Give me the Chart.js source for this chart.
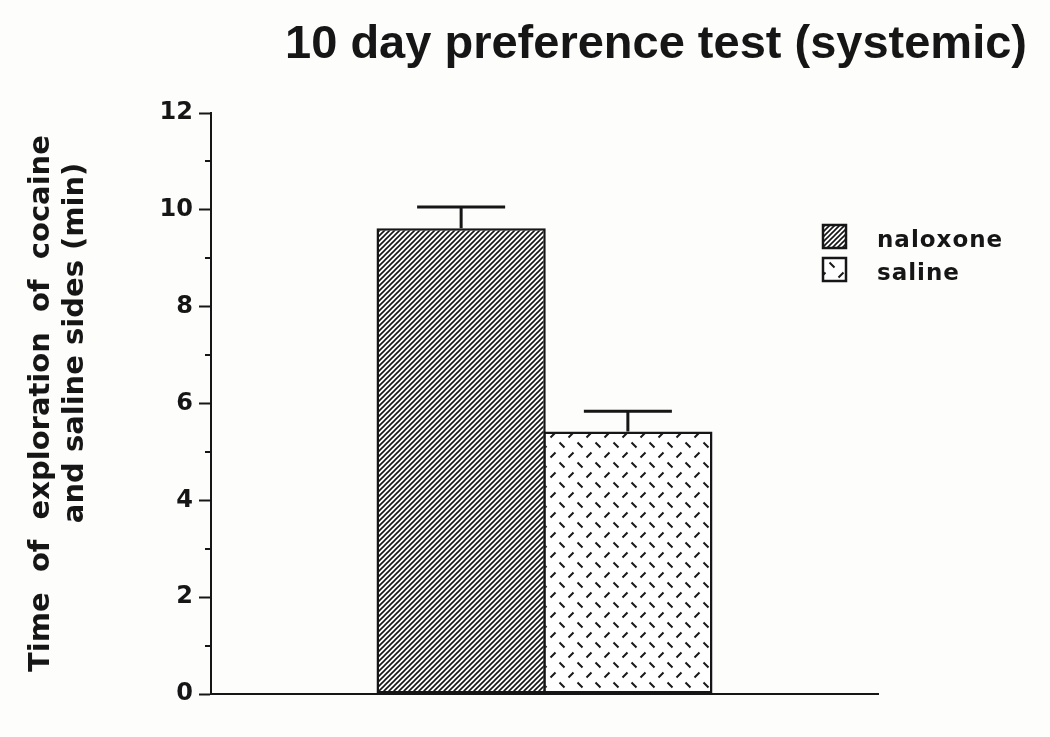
<!DOCTYPE html>
<html>
<head>
  <title>10 day preference test (systemic)</title>
  <script src="https://cdn.jsdelivr.net/npm/chart.js"></script>
  <style>
    body { margin: 0; background: #fdfdfc; }
  </style>
</head>
<body>
  <canvas id="myChart" width="1050" height="737"></canvas>

  <script>
    // data
    const categories = [''];
    const groups = ['naloxone', 'saline'];
    const naloxone = [9.62];
    const saline = [5.42];
    const naloxoneErr = [0.44];
    const salineErr = [0.42];
    const yTicks = [0, 2, 4, 6, 8, 10, 12];
    const yMinorTicks = [1, 3, 5, 7, 9, 11];

    const ink = '#161616';
    const boldFont = 'DejaVu Sans';

    function hatchPattern() {
      const c = document.createElement('canvas');
      c.width = 5; c.height = 5;
      const g = c.getContext('2d');
      g.fillStyle = '#fff';
      g.fillRect(0, 0, 5, 5);
      g.strokeStyle = ink;
      g.lineWidth = 1.6;
      g.beginPath();
      g.moveTo(-1, 6); g.lineTo(6, -1);
      g.moveTo(-1, 1); g.lineTo(1, -1);
      g.moveTo(4, 6); g.lineTo(6, 4);
      g.stroke();
      return g.createPattern(c, 'repeat');
    }

    function dashPattern() {
      const c = document.createElement('canvas');
      c.width = 18; c.height = 20;
      const g = c.getContext('2d');
      g.fillStyle = '#fff';
      g.fillRect(0, 0, 18, 20);
      g.strokeStyle = '#1a1a1a';
      g.lineWidth = 2;
      g.beginPath();
      g.moveTo(1.5, 2.5); g.lineTo(6.5, 7.5);
      g.moveTo(10.5, 17.5); g.lineTo(15.5, 12.5);
      g.stroke();
      return g.createPattern(c, 'repeat');
    }

    const errorBars = {
      id: 'errorBars',
      afterDatasetsDraw(chart) {
        const ctx = chart.ctx;
        const y = chart.scales.y;
        ctx.save();
        ctx.strokeStyle = ink;
        ctx.lineWidth = 3;
        chart.data.datasets.forEach((ds, i) => {
          chart.getDatasetMeta(i).data.forEach((bar, j) => {
            const top = y.getPixelForValue(ds.data[j] + ds.err[j]);
            const half = bar.width * 0.26;
            ctx.beginPath();
            ctx.moveTo(bar.x, bar.y);
            ctx.lineTo(bar.x, top);
            ctx.moveTo(bar.x - half, top);
            ctx.lineTo(bar.x + half, top);
            ctx.stroke();
          });
        });
        ctx.restore();
      }
    };

    const minorTicks = {
      id: 'minorTicks',
      afterDraw(chart) {
        const ctx = chart.ctx;
        const y = chart.scales.y;
        ctx.save();
        ctx.strokeStyle = ink;
        ctx.lineWidth = 2;
        ctx.beginPath();
        yMinorTicks.forEach(v => {
          const py = Math.round(y.getPixelForValue(v));
          ctx.moveTo(y.right - 6, py);
          ctx.lineTo(y.right, py);
        });
        ctx.stroke();
        ctx.restore();
      }
    };

    const boxLegend = {
      id: 'boxLegend',
      afterDraw(chart) {
        const ctx = chart.ctx;
        ctx.save();
        ctx.letterSpacing = '1px';
        ctx.font = 'bold 23px "' + boldFont + '"';
        ctx.textBaseline = 'alphabetic';
        chart.data.datasets.forEach((ds, i) => {
          const top = 225 + i * 33;
          ctx.fillStyle = ds.backgroundColor;
          ctx.fillRect(823, top, 23, 23);
          ctx.strokeStyle = ink;
          ctx.lineWidth = 2.5;
          ctx.strokeRect(823, top, 23, 23);
          ctx.fillStyle = ink;
          ctx.fillText(ds.label, 877, top + 22);
        });
        ctx.restore();
      }
    };

    const ctx = document.getElementById('myChart').getContext('2d');
    const myChart = new Chart(ctx, {
      type: 'bar',
      data: {
        labels: categories,
        datasets: [{
          label: groups[0],
          data: naloxone,
          err: naloxoneErr,
          backgroundColor: hatchPattern(),
          borderColor: ink,
          borderWidth: 2.5,
          borderSkipped: false
        }, {
          label: groups[1],
          data: saline,
          err: salineErr,
          backgroundColor: dashPattern(),
          borderColor: ink,
          borderWidth: 2.5,
          borderSkipped: false
        }]
      },
      options: {
        responsive: false,
        animation: false,
        layout: { padding: { left: 0, right: 23, top: 0, bottom: 43 } },
        datasets: {
          bar: { categoryPercentage: 0.5, barPercentage: 1.015 }
        },
        scales: {
          x: {
            afterFit(scale) { scale.height = 0; },
            grid: { display: false },
            ticks: { display: false },
            border: { display: true, color: ink, width: 2 }
          },
          y: {
            min: 0,
            max: 12,
            afterFit(scale) { scale.width = 211; },
            afterBuildTicks(scale) { scale.ticks = yTicks.map(v => ({ value: v })); },
            grid: { drawOnChartArea: false, drawTicks: true, tickLength: 12, tickColor: ink, tickWidth: 2 },
            border: { display: true, color: ink, width: 2 },
            ticks: {
              padding: 6,
              color: ink,
              font: { family: boldFont, weight: 'bold', size: 24 }
            },
            title: {
              display: true,
              text: ['Time  of  exploration  of  cocaine', '            and saline sides (min)'],
              color: ink,
              padding: { top: 25, bottom: 0 },
              font: { family: boldFont, weight: 'bold', size: 29, lineHeight: 1.17 }
            }
          },
          y2: {
            position: 'right',
            afterFit(scale) { scale.width = 149; },
            grid: { display: false },
            ticks: { display: false },
            border: { display: false }
          }
        },
        plugins: {
          legend: { display: false },
          tooltip: { enabled: false },
          title: {
            display: true,
            text: '10 day preference test (systemic)',
            align: 'end',
            color: ink,
            font: { family: '"Liberation Sans", Arial, sans-serif', weight: 'bold', size: 47, lineHeight: 1.2 },
            padding: { top: 17, bottom: 39.6 }
          }
        }
      },
      plugins: [errorBars, minorTicks, boxLegend]
    });
  </script>
</body>
</html>
